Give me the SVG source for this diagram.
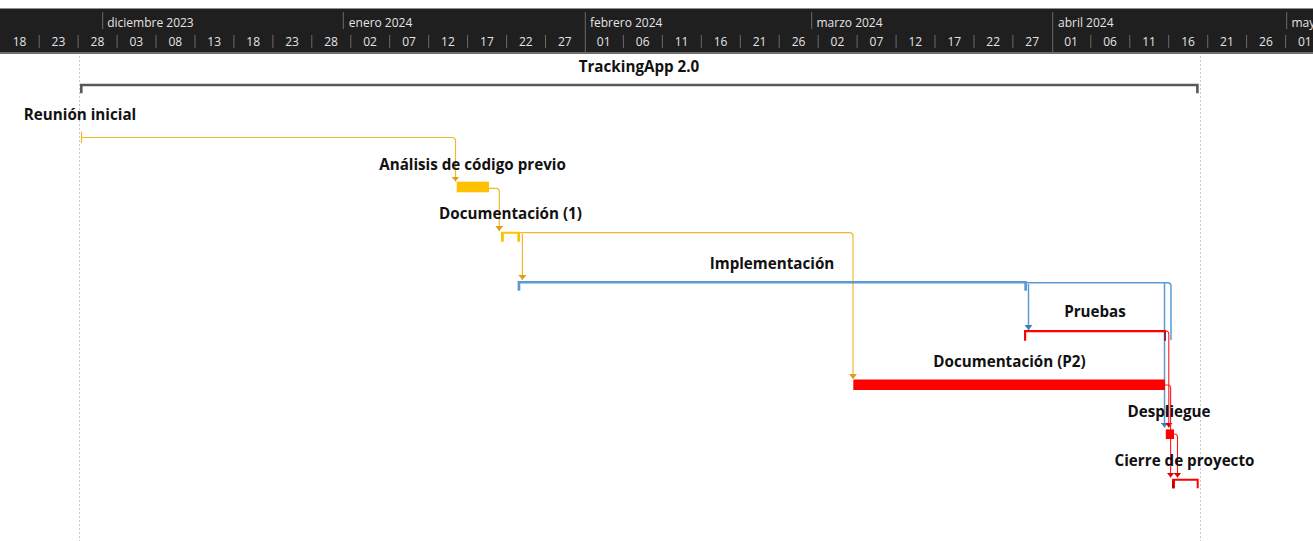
<svg xmlns="http://www.w3.org/2000/svg" width="1313" height="541" viewBox="0 0 1313 541">
<style>
.hdr{font-family:"Open Sans","Noto Sans",sans-serif;font-size:12px;fill:#e4e4e4}
.day{text-anchor:middle}
.sep{stroke:#6a6a6a;stroke-width:1}
.lbl{font-family:"Open Sans","Noto Sans",sans-serif;font-size:15.2px;font-weight:bold;fill:#111;text-anchor:middle}
.grid{stroke:#c8c8c8;stroke-width:1;stroke-dasharray:2,2}
.co{fill:none;stroke:#f0b92a;stroke-width:1.2}
.cb{fill:none;stroke:#5b9bd5;stroke-width:1.5}
.cr{fill:none;stroke:#ff1a1a;stroke-width:1.1}
.or{fill:#ffc000}
.bl{fill:#5b9bd5}
.rd{fill:#ff0000}
</style>
<defs>
<marker id="ao" viewBox="0 0 5 8" refX="5" refY="4" markerWidth="5" markerHeight="8" markerUnits="userSpaceOnUse" orient="auto"><path d="M0,0 L5,4 L0,8 z" fill="#d9a11a"/></marker>
<marker id="ab" viewBox="0 0 5 8" refX="5" refY="4" markerWidth="5" markerHeight="8" markerUnits="userSpaceOnUse" orient="auto"><path d="M0,0 L5,4 L0,8 z" fill="#3c7fc4"/></marker>
<marker id="ar" viewBox="0 0 5 8" refX="5" refY="4" markerWidth="5" markerHeight="8" markerUnits="userSpaceOnUse" orient="auto"><path d="M0,0 L5,4 L0,8 z" fill="#e00000"/></marker>
</defs>
<rect width="1313" height="541" fill="#ffffff"/>
<g id="timescale">
<rect x="0" y="8.5" width="1313" height="44" fill="#1f1f1f"/>
<rect x="0" y="52" width="1313" height="2" fill="#6e6e6e"/>
<g class="sep">
<line x1="102.7" y1="12" x2="102.7" y2="29"/>
<line x1="343.3" y1="12" x2="343.3" y2="29"/>
<line x1="585.3" y1="12" x2="585.3" y2="52"/>
<line x1="811.7" y1="12" x2="811.7" y2="29"/>
<line x1="1052.7" y1="12" x2="1052.7" y2="52"/>
<line x1="1286.7" y1="12" x2="1286.7" y2="29"/>
</g>
<g class="sep">
<line x1="39.2" y1="35" x2="39.2" y2="48"/><line x1="78.1" y1="35" x2="78.1" y2="48"/><line x1="117.1" y1="35" x2="117.1" y2="48"/><line x1="156" y1="35" x2="156" y2="48"/><line x1="195" y1="35" x2="195" y2="48"/><line x1="233.9" y1="35" x2="233.9" y2="48"/><line x1="272.9" y1="35" x2="272.9" y2="48"/><line x1="311.8" y1="35" x2="311.8" y2="48"/><line x1="350.8" y1="35" x2="350.8" y2="48"/><line x1="389.7" y1="35" x2="389.7" y2="48"/><line x1="428.7" y1="35" x2="428.7" y2="48"/><line x1="467.6" y1="35" x2="467.6" y2="48"/><line x1="506.6" y1="35" x2="506.6" y2="48"/><line x1="545.5" y1="35" x2="545.5" y2="48"/><line x1="623.4" y1="35" x2="623.4" y2="48"/><line x1="662.4" y1="35" x2="662.4" y2="48"/><line x1="701.3" y1="35" x2="701.3" y2="48"/><line x1="740.3" y1="35" x2="740.3" y2="48"/><line x1="779.2" y1="35" x2="779.2" y2="48"/><line x1="818.2" y1="35" x2="818.2" y2="48"/><line x1="857.1" y1="35" x2="857.1" y2="48"/><line x1="896.1" y1="35" x2="896.1" y2="48"/><line x1="935" y1="35" x2="935" y2="48"/><line x1="974" y1="35" x2="974" y2="48"/><line x1="1012.9" y1="35" x2="1012.9" y2="48"/><line x1="1090.8" y1="35" x2="1090.8" y2="48"/><line x1="1129.8" y1="35" x2="1129.8" y2="48"/><line x1="1168.7" y1="35" x2="1168.7" y2="48"/><line x1="1207.7" y1="35" x2="1207.7" y2="48"/><line x1="1246.6" y1="35" x2="1246.6" y2="48"/><line x1="1285.6" y1="35" x2="1285.6" y2="48"/>
</g>
<g class="hdr">
<text x="107.2" y="27">diciembre 2023</text>
<text x="348.8" y="27">enero 2024</text>
<text x="590" y="27">febrero 2024</text>
<text x="816.5" y="27">marzo 2024</text>
<text x="1058" y="27">abril 2024</text>
<text x="1291.5" y="27">mayo 2024</text>
</g>
<g class="hdr day">
<text x="19.5" y="46">18</text><text x="58.4" y="46">23</text><text x="97.4" y="46">28</text><text x="136.3" y="46">03</text><text x="175.3" y="46">08</text><text x="214.2" y="46">13</text><text x="253.2" y="46">18</text><text x="292.1" y="46">23</text><text x="331.1" y="46">28</text><text x="370" y="46">02</text><text x="409" y="46">07</text><text x="447.9" y="46">12</text><text x="486.9" y="46">17</text><text x="525.8" y="46">22</text><text x="564.8" y="46">27</text><text x="603.7" y="46">01</text><text x="642.7" y="46">06</text><text x="681.6" y="46">11</text><text x="720.6" y="46">16</text><text x="759.5" y="46">21</text><text x="798.5" y="46">26</text><text x="837.4" y="46">02</text><text x="876.4" y="46">07</text><text x="915.3" y="46">12</text><text x="954.3" y="46">17</text><text x="993.2" y="46">22</text><text x="1032.2" y="46">27</text><text x="1071.1" y="46">01</text><text x="1110.1" y="46">06</text><text x="1149" y="46">11</text><text x="1188" y="46">16</text><text x="1226.9" y="46">21</text><text x="1265.9" y="46">26</text><text x="1304.8" y="46">01</text>
</g>
</g>
<g id="gridlines">
<line class="grid" x1="79.5" y1="56" x2="79.5" y2="541"/>
<line class="grid" x1="1200.5" y1="56" x2="1200.5" y2="541"/>
</g>
<g id="connectors">
<path class="co" d="M82,137.5 H452 Q455.5,137.5 455.5,141 V181.5" marker-end="url(#ao)"/>
<path class="co" d="M489,188.3 H496 Q499.3,188.3 499.3,191.6 V231" marker-end="url(#ao)"/>
<path class="co" d="M522.4,234 V280" marker-end="url(#ao)"/>
<path class="co" d="M520,232.7 H849.5 Q853,232.7 853,236.2 V379" marker-end="url(#ao)"/>
<path class="cb" d="M1027,282.7 H1167.5 Q1171,282.7 1171,286.2 V340"/>
<path class="cb" d="M1028.5,284 V330" marker-end="url(#ab)"/>
<path class="cb" d="M1164.5,283 V427.5" marker-end="url(#ab)"/>
<path class="cr" d="M1166,331 H1166 Q1168.8,331 1168.8,334 V427.5" marker-end="url(#ar)"/>
<path class="cr" d="M1165,385 H1167.5 Q1170.6,385 1170.6,388 V477.5" marker-end="url(#ar)"/>
<path class="cr" d="M1174,434 H1174.5 Q1177.5,434 1177.5,437 V477.5" marker-end="url(#ar)"/>
</g>
<g id="project-summary">
<path d="M81.3,93.3 V85 H1197.4 V93.3" fill="none" stroke="#595959" stroke-width="2.6"/>
<text class="lbl" x="639" y="72">TrackingApp 2.0</text>
</g>
<g id="task-reunion-inicial">
<line x1="81.5" y1="131.5" x2="81.5" y2="143" stroke="#f0b92a" stroke-width="1.2"/>
<text class="lbl" x="80" y="120">Reunión inicial</text>
</g>
<g id="task-analisis">
<rect class="or" x="456.7" y="181.7" width="32.3" height="10.6"/>
<text class="lbl" x="472.5" y="170">Análisis de código previo</text>
</g>
<g id="task-documentacion-1">
<path class="or" d="M501,231.7 H520 V241.7 H517.3 V233.8 H503.8 V241.7 H501 z"/>
<text class="lbl" x="510.5" y="219">Documentación (1)</text>
</g>
<g id="task-implementacion">
<path class="bl" d="M517.6,281 H1027 V290.7 H1024.3 V283.5 H520.3 V290.7 H517.6 z"/>
<text class="lbl" x="772" y="268.5">Implementación</text>
</g>
<g id="task-pruebas">
<path class="rd" d="M1024,330 H1166 V340.7 H1164 V332.2 H1026.2 V340.7 H1024 z"/>
<rect x="1164" y="332.2" width="2" height="8.5" fill="#8a2a4a"/>
<text class="lbl" x="1095" y="317">Pruebas</text>
</g>
<g id="task-documentacion-p2">
<rect class="rd" x="853.3" y="379.5" width="311.7" height="10.5"/>
<text class="lbl" x="1009.5" y="367">Documentación (P2)</text>
</g>
<g id="task-despliegue">
<rect class="rd" x="1165.8" y="429.4" width="8.2" height="9.6"/>
<text class="lbl" x="1169" y="417">Despliegue</text>
</g>
<g id="task-cierre">
<path class="rd" d="M1172,478.7 H1198.7 V488.3 H1196.7 V480.7 H1174.7 V488.3 H1172 z"/>
<rect x="1172" y="480.7" width="2.7" height="7.6" fill="#c00000"/>
<text class="lbl" x="1184.5" y="466">Cierre de proyecto</text>
</g>
</svg>
